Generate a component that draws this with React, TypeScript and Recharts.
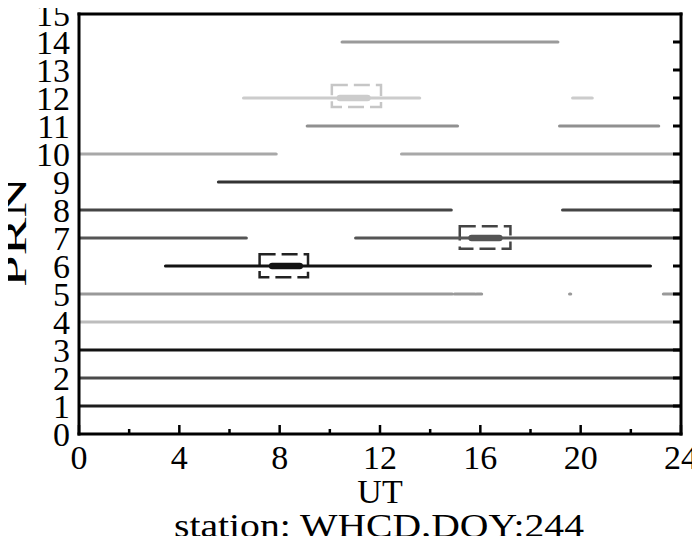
import React from 'react';
import { ComposedChart, Line, XAxis, YAxis, ReferenceArea } from 'recharts';

// PRN axis ticks and UT axis ticks
const prnTicks = [0, 1, 2, 3, 4, 5, 6, 7, 8, 9, 10, 11, 12, 13, 14, 15];
const prnInnerTicks = [1, 2, 3, 4, 5, 6, 7, 8, 9, 10, 11, 12, 13, 14];
const utTicks = [0, 2, 4, 6, 8, 10, 12, 14, 16, 18, 20, 22, 24];

// tracked arcs: [prn, from UT, to UT]
const arcs: [number, number, number][] = [
  [1, 0, 24],
  [2, 0, 24],
  [3, 0, 24],
  [4, 0, 24],
  [5, 0, 14.88], [5, 14.97, 15.79], [5, 15.85, 16.05], [5, 19.56, 19.6], [5, 23.3, 24],
  [6, 3.45, 22.78],
  [7, 0, 6.67], [7, 11.03, 24],
  [8, 0, 14.84], [8, 19.28, 24],
  [9, 5.56, 24],
  [10, 0, 7.86], [10, 12.86, 24],
  [11, 9.1, 15.09], [11, 19.16, 23.11],
  [12, 6.56, 13.58], [12, 19.68, 20.46],
  [14, 10.49, 19.09],
];

// emphasised spans: [prn, from UT, to UT]
const spans: [number, number, number][] = [
  [12, 10.4, 11.5],
  [7, 15.65, 16.76],
  [6, 7.7, 8.8],
];

// boxes: [prn, from UT, to UT, low, high]
const boxes: [number, number, number, number, number][] = [
  [12, 10.08, 12.04, 11.68, 12.46],
  [7, 15.18, 17.2, 6.62, 7.42],
  [6, 7.2, 9.13, 5.6, 6.42],
];

const prnColor: Record<number, string> = {
  1: '#1c1c1c', 2: '#4a4a4a', 3: '#121212', 4: '#bdbdbd', 5: '#999999',
  6: '#121212', 7: '#555555', 8: '#454545', 9: '#333333', 10: '#a8a8a8',
  11: '#909090', 12: '#cccccc', 14: '#9a9a9a',
};
const boxColor: Record<number, string> = { 12: '#c6c6c6', 7: '#444444', 6: '#222222' };

const textStyle = { fontFamily: "'Liberation Serif', Tinos, 'Times New Roman', Times, serif" };

const BottomTick = (props: any) => {
  const { x, y, payload } = props;
  const v = payload.value;
  const major = v % 4 === 0;
  return (
    <g>
      <line x1={x} x2={x} y1={y} y2={y - (major ? 9 : 5)} stroke="#000" strokeWidth={2.5} />
      {major && (
        <text x={x} y={y + 35} textAnchor="middle" fontSize={34} style={textStyle} fill="#000">
          {v}
        </text>
      )}
    </g>
  );
};

const TopTick = (props: any) => {
  const { x, y, payload } = props;
  const major = payload.value % 4 === 0;
  return <line x1={x} x2={x} y1={y} y2={y + (major ? 9 : 5)} stroke="#000" strokeWidth={2.5} />;
};

const LeftTick = (props: any) => {
  const { x, y, payload } = props;
  return (
    <text x={x - 9} y={y + 12} textAnchor="end" fontSize={34} style={textStyle} fill="#000">
      {payload.value}
    </text>
  );
};

const RightTick = (props: any) => {
  const { x, y } = props;
  return <line x1={x} x2={x - 8} y1={y} y2={y} stroke="#000" strokeWidth={3} />;
};

const axisLine = { stroke: '#000', strokeWidth: 3, strokeLinecap: 'square' as const };

export default function App() {
  return (
    <div style={{ position: 'relative', width: 700, height: 544, margin: -8, background: '#fff' }}>
      <ComposedChart width={700} height={544} margin={{ top: 8, right: 13, bottom: 60, left: 0 }}>
        <XAxis
          dataKey="ut"
          type="number"
          domain={[0, 24]}
          ticks={utTicks}
          allowDataOverflow
          height={50}
          tickSize={0}
          tickMargin={0}
          tickLine={false}
          axisLine={axisLine}
          tick={<BottomTick />}
          interval={0}
        />
        <XAxis
          xAxisId="top"
          orientation="top"
          type="number"
          domain={[0, 24]}
          ticks={utTicks}
          allowDataOverflow
          height={6}
          tickSize={0}
          tickMargin={0}
          tickLine={false}
          axisLine={axisLine}
          tick={<TopTick />}
          interval={0}
        />
        <YAxis
          type="number"
          domain={[0, 15]}
          ticks={prnTicks}
          allowDataOverflow
          width={79}
          tickSize={0}
          tickMargin={0}
          tickLine={false}
          axisLine={axisLine}
          tick={<LeftTick />}
          interval={0}
        />
        <YAxis
          yAxisId="r"
          orientation="right"
          type="number"
          domain={[0, 15]}
          ticks={prnInnerTicks}
          allowDataOverflow
          width={6}
          tickSize={0}
          tickMargin={0}
          tickLine={false}
          axisLine={axisLine}
          tick={<RightTick />}
          interval={0}
        />

        {arcs.map(([prn, a, b], i) => (
          <Line
            key={`arc-${i}`}
            data={[{ ut: a, prn }, { ut: b, prn }]}
            dataKey="prn"
            type="linear"
            stroke={prnColor[prn]}
            strokeWidth={3.2}
            strokeLinecap="round"
            dot={false}
            activeDot={false}
            isAnimationActive={false}
          />
        ))}

        {spans.map(([prn, a, b], i) => (
          <Line
            key={`span-${i}`}
            data={[{ ut: a, prn }, { ut: b, prn }]}
            dataKey="prn"
            type="linear"
            stroke={prnColor[prn]}
            strokeWidth={6.5}
            strokeLinecap="round"
            dot={false}
            activeDot={false}
            isAnimationActive={false}
          />
        ))}

        {boxes.map(([prn, a, b, lo, hi], i) => (
          <ReferenceArea
            key={`box-${i}`}
            x1={a}
            x2={b}
            y1={lo}
            y2={hi}
            fill="none"
            fillOpacity={0}
            stroke={boxColor[prn]}
            strokeWidth={2.5}
            strokeDasharray="16 6"
            strokeOpacity={1}
          />
        ))}
      </ComposedChart>

      <svg width={700} height={544} style={{ position: 'absolute', left: 0, top: 0, pointerEvents: 'none' }}>
        <text x={380} y={503} textAnchor="middle" fontSize={34} style={textStyle} fill="#000">
          UT
        </text>
        <text
          x={379}
          y={537}
          textAnchor="middle"
          fontSize={33}
          style={textStyle}
          fill="#000"
          textLength={410}
          lengthAdjust="spacingAndGlyphs"
        >
          station: WHCD,DOY:244
        </text>
        <text
          x={26}
          y={232}
          transform="rotate(-90, 26, 232)"
          textAnchor="middle"
          fontSize={34}
          style={textStyle}
          fill="#000"
          textLength={110}
          lengthAdjust="spacingAndGlyphs"
        >
          PRN
        </text>
      </svg>
    </div>
  );
}
